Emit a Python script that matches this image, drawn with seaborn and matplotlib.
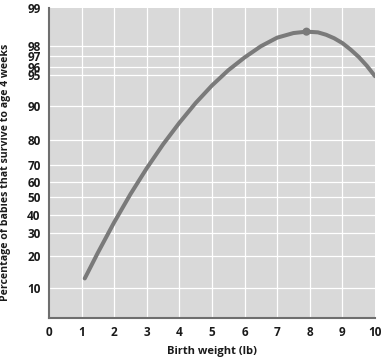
import numpy as np
import pandas as pd
import matplotlib
matplotlib.use("Agg")
import matplotlib.pyplot as plt
import seaborn as sns

# birth weight (lb) vs. % surviving to 4 weeks
weight = [1.1, 1.5, 2.0, 2.5, 3.0, 3.5, 4.0, 4.5, 5.0, 5.5, 6.0, 6.5, 7.0, 7.5,
          7.9, 8.25, 8.5, 8.75, 9.0, 9.25, 9.5, 9.75, 10.0]
survival = [12.4, 21.2, 35.7, 51.8, 68.1, 78.4, 85.8, 90.7, 93.7, 95.6, 96.9, 97.95, 98.27, 98.41,
            98.45, 98.43, 98.36, 98.25, 98.09, 97.68, 96.95, 96.08, 94.9]

# optimum birth weight marked with a dot
peak_weight = [7.9]
peak_survival = [98.45]

x_ticks = [0, 1, 2, 3, 4, 5, 6, 7, 8, 9, 10]
y_ticks = [10, 20, 30, 40, 50, 60, 70, 80, 90, 95, 96, 97, 98, 99]

# the printed axis is a stretched (roughly logit) scale; anchor it to where
# the gridlines sit in the figure
anchor_vals = np.array([5, 10, 20, 30, 40, 50, 60, 70, 80, 90, 95, 96, 97, 98, 99], dtype=float)
anchor_pos = np.array([0, 30, 62, 85, 103, 121, 136.3, 153, 178, 211.5, 242.5, 251.3, 261.5, 272.2, 310], dtype=float)


def _logit(v):
    p = np.clip(np.asarray(v, dtype=float) / 100.0, 1e-6, 1 - 1e-6)
    return np.log(p / (1 - p))


anchor_logit = _logit(anchor_vals)


def fwd(v):
    return np.interp(_logit(v), anchor_logit, anchor_pos)


def inv(pos):
    lg = np.interp(np.asarray(pos, dtype=float), anchor_pos, anchor_logit)
    return 100.0 / (1 + np.exp(-lg))


df = pd.DataFrame({"weight": weight, "survival": survival})
peak = pd.DataFrame({"weight": peak_weight, "survival": peak_survival})

sns.set_theme(style="white")
plt.rcParams["font.family"] = ["Open Sans", "DejaVu Sans"]

fig = plt.figure(figsize=(3.85, 3.62), dpi=100)
ax = fig.add_axes([0.127, 0.1215, 0.847, 0.857])
ax.set_facecolor("#d9d9d9")

ax.set_yscale("function", functions=(fwd, inv))
ax.set_xlim(0, 10)
ax.set_ylim(5, 99)

for v in y_ticks[:-1]:
    ax.axhline(v, color="white", lw=0.9, zorder=1)
for v in x_ticks[1:-1]:
    ax.axvline(v, color="white", lw=0.9, zorder=1)

sns.lineplot(data=df, x="weight", y="survival", ax=ax, color="#7a7a7a",
             lw=2.9, zorder=3, legend=False)
sns.scatterplot(data=peak, x="weight", y="survival", ax=ax, color="#7a7a7a",
                s=34, edgecolor="none", zorder=4, legend=False)

tick_kw = dict(fontsize=8.5, fontweight="bold", color="#1a1a1a")
ax.set_xticks(x_ticks)
ax.set_xticklabels([str(t) for t in x_ticks], **tick_kw)
ax.set_yticks(y_ticks)
ax.set_yticklabels([str(t) for t in y_ticks], **tick_kw)
ax.yaxis.set_minor_locator(matplotlib.ticker.NullLocator())
ax.tick_params(axis="x", length=0, pad=6)
ax.tick_params(axis="y", length=0, pad=6)

for side in ["top", "right"]:
    ax.spines[side].set_visible(False)
for side in ["left", "bottom"]:
    ax.spines[side].set_color("#6e6e6e")
    ax.spines[side].set_linewidth(1.5)

ax.set_xlabel("Birth weight (lb)", fontsize=8, fontweight="bold", color="#1a1a1a", labelpad=5)
ax.set_ylabel("Percentage of babies that survive to age 4 weeks", fontsize=7.6,
              fontweight="bold", color="#1a1a1a")
ax.yaxis.set_label_coords(-0.117, 0.47)

fig.savefig("out.png", dpi=100)
